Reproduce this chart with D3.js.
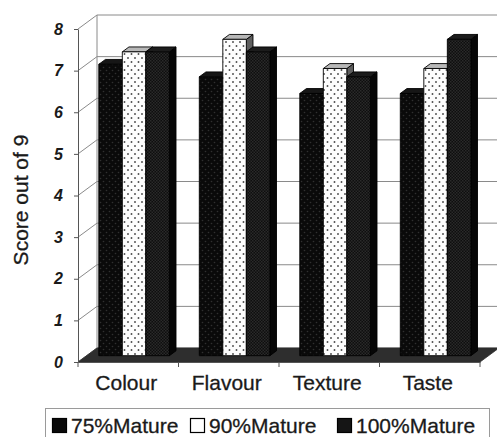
<!DOCTYPE html>
<html>
<head>
<meta charset="utf-8">
<script src="https://cdn.jsdelivr.net/npm/d3@7"></script>
<style>
  body { margin: 0; background: #fff; }
  svg { display: block; }
</style>
</head>
<body>
<svg id="chart" width="497" height="437"></svg>
<script>
// Sensory scores by maturity level
const categories = ["Colour", "Flavour", "Texture", "Taste"];
const seriesNames = ["75%Mature", "90%Mature", "100%Mature"];
const mature75 = [7.0, 6.7, 6.3, 6.3];
const mature90 = [7.3, 7.6, 6.9, 6.9];
const mature100 = [7.3, 7.3, 6.7, 7.6];
const yTicks = [0, 1, 2, 3, 4, 5, 6, 7, 8];
const yTitle = "Score out of 9";

const seriesValues = [mature75, mature90, mature100];

const svg = d3.select("#chart");
const font = "'Liberation Sans', Arial, Helvetica, sans-serif";
const ink = "#1a1a1a";

// front plane of the plot and the oblique offset to the back wall
const plotLeft = 78, plotRight = 480, plotBottom = 362, plotTop = 29;
const depth = { dx: 19, dy: -14 };
// bars occupy this slice of the floor depth
const zFront = 0.45, zBack = 0.8;

const y = d3.scaleLinear().domain([0, 8]).range([plotBottom, plotTop]);
const x = d3.scaleBand().domain(categories).range([plotLeft, plotRight]);
const barW = x.bandwidth() * 0.234;
const xs = d3.scaleBand().domain(seriesNames).range([0, barW * 3]);
const bdx = (zBack - zFront) * depth.dx, bdy = (zBack - zFront) * depth.dy;
const clusterOff = (x.bandwidth() - barW * 3 - bdx) / 2 + 0.6;

// ---------- fill patterns ----------
const defs = svg.append("defs");
const p75 = defs.append("pattern").attr("id", "p75").attr("patternUnits", "userSpaceOnUse")
  .attr("width", 6).attr("height", 6);
p75.append("rect").attr("width", 6).attr("height", 6).attr("fill", "#0a0a0a");
p75.append("circle").attr("cx", 1.5).attr("cy", 1.5).attr("r", 0.8).attr("fill", "#303030");
p75.append("circle").attr("cx", 4.5).attr("cy", 4.5).attr("r", 0.8).attr("fill", "#303030");

const p90 = defs.append("pattern").attr("id", "p90").attr("patternUnits", "userSpaceOnUse")
  .attr("width", 7).attr("height", 8);
p90.append("rect").attr("width", 7).attr("height", 8).attr("fill", "#fdfdfd");
p90.append("circle").attr("cx", 2).attr("cy", 2).attr("r", 0.95).attr("fill", "#4a4a4a");
p90.append("circle").attr("cx", 5.5).attr("cy", 6).attr("r", 0.95).attr("fill", "#4a4a4a");

const p100 = defs.append("pattern").attr("id", "p100").attr("patternUnits", "userSpaceOnUse")
  .attr("width", 3).attr("height", 3);
p100.append("rect").attr("width", 3).attr("height", 3).attr("fill", "#0e0e0e");
p100.append("rect").attr("width", 1.5).attr("height", 1.5).attr("fill", "#2a2a2a");
p100.append("rect").attr("x", 1.5).attr("y", 1.5).attr("width", 1.5).attr("height", 1.5).attr("fill", "#2a2a2a");

const frontFill = ["url(#p75)", "url(#p90)", "url(#p100)"];
const topFill = ["#161616", "#b8b8b8", "#1c1c1c"];
const sideFill = ["#050505", "#5e5e5e", "#060606"];

// ---------- walls ----------
const walls = svg.append("g");
const bx0 = plotLeft + depth.dx, by0 = y(0) + depth.dy, byTop = y(8) + depth.dy;
const bRight = plotRight + depth.dx;

// side wall gridlines (front axis to back wall) and back wall gridlines
walls.selectAll("line.side").data(yTicks).join("line")
  .attr("x1", plotLeft).attr("y1", d => y(d))
  .attr("x2", bx0).attr("y2", d => y(d) + depth.dy)
  .attr("stroke", "#8a8a8a").attr("stroke-width", 1);
walls.selectAll("line.back").data(yTicks).join("line")
  .attr("x1", bx0).attr("y1", d => y(d) + depth.dy)
  .attr("x2", bRight).attr("y2", d => y(d) + depth.dy)
  .attr("stroke", "#8a8a8a").attr("stroke-width", 1);
walls.append("line")
  .attr("x1", bx0).attr("y1", byTop).attr("x2", bx0).attr("y2", by0)
  .attr("stroke", "#8a8a8a").attr("stroke-width", 1);

// floor
walls.append("path")
  .attr("d", `M${plotLeft},${y(0)}L${plotRight},${y(0)}L${bRight},${by0}L${bx0},${by0}Z`)
  .attr("fill", "#2e2e2e").attr("stroke", "#2e2e2e").attr("stroke-width", 0.8);

// ---------- bars ----------
const bars = svg.append("g");
categories.forEach((cat, ci) => {
  seriesNames.forEach((name, si) => {
    const v = seriesValues[si][ci];
    const x0 = x(cat) + clusterOff + xs(name) + zFront * depth.dx;
    const x1 = x0 + barW;
    const yb = y(0) + zFront * depth.dy;
    const yt = y(v) + zFront * depth.dy;
    const g = bars.append("g").attr("stroke", "#000").attr("stroke-width", 0.9)
      .attr("stroke-linejoin", "round");
    g.append("path")
      .attr("d", `M${x1},${yt}L${x1 + bdx},${yt + bdy}L${x1 + bdx},${yb + bdy}L${x1},${yb}Z`)
      .attr("fill", sideFill[si]);
    g.append("path")
      .attr("d", `M${x0},${yt}L${x1},${yt}L${x1 + bdx},${yt + bdy}L${x0 + bdx},${yt + bdy}Z`)
      .attr("fill", topFill[si]);
    g.append("rect")
      .attr("x", x0).attr("y", yt).attr("width", barW).attr("height", yb - yt)
      .attr("fill", frontFill[si]);
  });
});

// ---------- axes ----------
const yAxis = svg.append("g")
  .attr("transform", `translate(${plotLeft},0)`)
  .call(d3.axisLeft(y).tickValues(yTicks).tickFormat(d3.format("d")).tickSizeInner(4).tickSizeOuter(0).tickPadding(11));
yAxis.select(".domain").attr("stroke", "#555");
yAxis.selectAll(".tick line").attr("stroke", "#555");
yAxis.selectAll("text")
  .attr("font-family", font).attr("font-size", 16).attr("font-weight", "bold")
  .attr("font-style", "italic").attr("fill", ink);

const xAxis = svg.append("g")
  .attr("transform", `translate(0,${y(0)})`)
  .call(d3.axisBottom(x).tickSize(0).tickPadding(13));
xAxis.select(".domain").attr("stroke", "#555");
xAxis.selectAll("text").attr("font-family", font).attr("font-size", 21).attr("fill", ink)
  .attr("stroke", ink).attr("stroke-width", 0.3).attr("dx", -2);
// tick marks at the category boundaries
const edges = categories.map(c => x(c)).concat([x.range()[1]]);
xAxis.selectAll("line.edge").data(edges).join("line")
  .attr("x1", d => d).attr("x2", d => d).attr("y1", 0).attr("y2", 5)
  .attr("stroke", "#555");

svg.append("text")
  .attr("transform", "translate(21,200) rotate(-90)")
  .attr("text-anchor", "middle").attr("dy", "0.35em")
  .attr("font-family", font).attr("font-size", 21).attr("fill", ink)
  .attr("stroke", ink).attr("stroke-width", 0.3)
  .text(yTitle);

// ---------- legend ----------
const legend = svg.append("g");
legend.append("rect").attr("x", 45.5).attr("y", 408.5).attr("width", 444).attr("height", 40)
  .attr("fill", "none").attr("stroke", "#9a9a9a");
const legendX = [52, 190, 337];
const swatch = ["#0a0a0a", "#ffffff", "#151515"];
seriesNames.forEach((name, i) => {
  legend.append("rect").attr("x", legendX[i] + 0.5).attr("y", 418.5).attr("width", 14).attr("height", 14)
    .attr("fill", swatch[i]).attr("stroke", "#000").attr("stroke-width", 1.2);
  legend.append("text").attr("x", legendX[i] + 19).attr("y", 433)
    .attr("font-family", font).attr("font-size", 21).attr("fill", ink)
    .attr("stroke", ink).attr("stroke-width", 0.3)
    .text(name);
});
</script>
</body>
</html>
